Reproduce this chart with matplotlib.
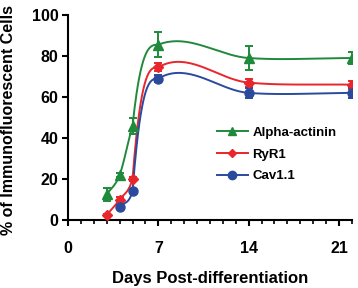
import numpy as np
import matplotlib
matplotlib.use("Agg")
from matplotlib import pyplot as plt
from matplotlib.ticker import MultipleLocator

plt.rcParams["font.family"] = ["Liberation Sans", "DejaVu Sans"]
plt.rcParams["font.weight"] = "bold"

days_alpha = [3, 4, 5, 7, 14, 22]
alpha = [12.5, 22, 46, 85.5, 79, 79]
alpha_err = [3, 1, 4, 6, 6, 3]

days_ryr = [3, 4, 5, 7, 14, 22]
ryr = [2.5, 10, 20, 74.5, 67, 66]
ryr_err = [0.5, 1, 1, 2, 2, 2]

days_cav = [4, 5, 7, 14, 22]
cav = [6.5, 14, 69, 62, 62]
cav_err = [1, 1, 1.5, 2.5, 2.5]


def smooth(x, y, n=40):
    # piecewise hermite curve through the points (catmull-rom slopes,
    # the big jump is drawn as a saturating rise like the original curve)
    x = np.asarray(x, float)
    y = np.asarray(y, float)
    k = len(x)
    sec = np.diff(y) / np.diff(x)
    m = np.empty(k)
    m[0], m[-1] = sec[0], sec[-1]
    m[1:-1] = (y[2:] - y[:-2]) / (x[2:] - x[:-2])
    jump = np.argmax(np.diff(y))
    m[jump + 1] *= 0.7
    xs_all, ys_all = [], []
    for i in range(k - 1):
        h = x[i + 1] - x[i]
        m0, m1 = m[i], m[i + 1]
        if i == jump:
            m0, m1 = 3 * sec[i], 0.0
        t = np.linspace(0, 1, n)
        h00 = 2 * t ** 3 - 3 * t ** 2 + 1
        h10 = t ** 3 - 2 * t ** 2 + t
        h01 = -2 * t ** 3 + 3 * t ** 2
        h11 = t ** 3 - t ** 2
        xs_all.append(x[i] + t * h)
        ys_all.append(h00 * y[i] + h10 * h * m0 + h01 * y[i + 1] + h11 * h * m1)
    return np.concatenate(xs_all), np.concatenate(ys_all)


fig = plt.figure(figsize=(3.58, 2.88), dpi=100)
ax = fig.add_axes([0.19, 0.236, 0.793, 0.712])

series = [
    (days_alpha, alpha, alpha_err, "#1f8a3b", "^", 7, 5.5, "Alpha-actinin"),
    (days_ryr, ryr, ryr_err, "#e8262b", "D", 5, 4.5, "RyR1"),
    (days_cav, cav, cav_err, "#2a4a9e", "o", 6.5, 6, "Cav1.1"),
]
for x, y, e, c, m, ms, lms, lab in series:
    xs, ys = smooth(x, y)
    ax.plot(xs, ys, color=c, lw=1.4, zorder=2)
    ax.errorbar(x, y, yerr=e, fmt=m, color=c, ms=ms, capsize=3, elinewidth=1.4,
                capthick=1.4, zorder=3)
    ax.plot([], [], color=c, lw=1.4, marker=m, ms=lms, label=lab)

ax.set_xlim(0, 22)
ax.set_ylim(0, 100)
ax.set_xticks([0, 7, 14, 21])
ax.xaxis.set_minor_locator(MultipleLocator(1))
ax.set_yticks([0, 20, 40, 60, 80, 100])
for s in ["top", "right"]:
    ax.spines[s].set_visible(False)
for s in ["left", "bottom"]:
    ax.spines[s].set_linewidth(1.5)
ax.tick_params(axis="both", which="major", length=4, width=1.5, labelsize=11.5, pad=3)
ax.tick_params(axis="x", which="minor", length=3, width=1.2)
ax.tick_params(axis="x", which="major", pad=11)

ax.set_xlabel("Days Post-differentiation", fontsize=12, fontweight="bold", labelpad=11)
ax.set_ylabel("% of Immunofluorescent Cells", fontsize=11.5, fontweight="bold")
ax.yaxis.set_label_coords(-0.182, 0.49)

leg = fig.legend(loc="upper left", bbox_to_anchor=(0.605, 0.56), frameon=False,
                 fontsize=9.5, handlelength=2.4, handletextpad=0.3, labelspacing=0.72,
                 borderpad=0, borderaxespad=0)

plt.savefig("out.png", dpi=100)
